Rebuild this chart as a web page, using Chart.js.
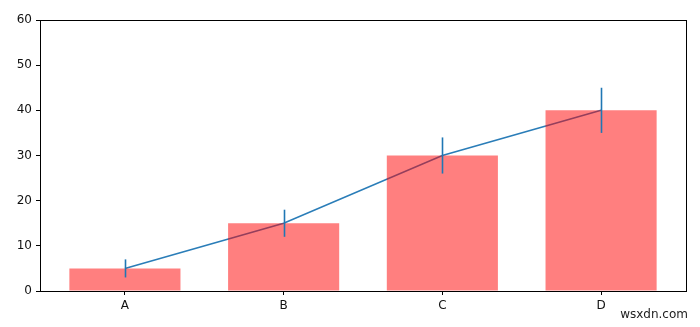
<!DOCTYPE html>
<html>
<head>
<meta charset="utf-8">
<script src="https://cdn.jsdelivr.net/npm/chart.js@4/dist/chart.umd.min.js"></script>
<style>
  body { margin: 0; background: #fff; }
  #wrap { position: relative; width: 700px; height: 327px; }
  #credit { position: absolute; right: 12px; bottom: 6px; font: 12px "DejaVu Sans", sans-serif; color: #222; }
</style>
</head>
<body>
<div id="wrap">
  <canvas id="myChart" width="700" height="327"></canvas>
  <div id="credit">wsxdn.com</div>
</div>
<script>
var categories = ['A', 'B', 'C', 'D'];
var values = [5, 15, 30, 40];
var errors = [2, 3, 4, 5];
var yTicks = [0, 10, 20, 30, 40, 50, 60];

var points = values.map(function(v, i) { return { x: i, y: v }; });

// error bars + top/right spines
var extras = {
    id: 'extras',
    afterDatasetsDraw: function(chart) {
        var c = chart.ctx, xs = chart.scales.x, ys = chart.scales.y;
        c.save();
        c.strokeStyle = '#1f77b4';
        c.lineWidth = 1.6;
        values.forEach(function(v, i) {
            var px = Math.round(xs.getPixelForValue(i)) + 0.5;
            c.beginPath();
            c.moveTo(px, ys.getPixelForValue(v - errors[i]));
            c.lineTo(px, ys.getPixelForValue(v + errors[i]));
            c.stroke();
        });
        var a = chart.chartArea;
        c.strokeStyle = '#000';
        c.lineWidth = 1;
        c.strokeRect(a.left + 0.5, a.top + 0.5, a.right - a.left, a.bottom - a.top);
        c.restore();
    }
};

var ctx = document.getElementById('myChart');
var myChart = new Chart(ctx, {
    type: 'bar',
    data: {
        datasets: [{
            type: 'bar',
            data: points,
            backgroundColor: 'rgba(255, 0, 0, 0.5)',
            borderWidth: 0,
            barPercentage: 0.7,
            categoryPercentage: 1,
            order: 0
        }, {
            type: 'line',
            data: points,
            borderColor: '#2a7db8',
            borderWidth: 1.6,
            pointRadius: 0,
            fill: false,
            order: 1
        }]
    },
    options: {
        responsive: false,
        animation: false,
        layout: { padding: { left: 0, right: 14, top: 20, bottom: 0 } },
        plugins: { legend: { display: false }, tooltip: { enabled: false } },
        scales: {
            x: {
                type: 'linear',
                min: -0.535,
                max: 3.535,
                offset: false,
                afterBuildTicks: function(s) {
                    s.ticks = categories.map(function(c, i) { return { value: i }; });
                },
                afterFit: function(s) { s.height = 36; },
                ticks: {
                    padding: 4,
                    color: '#111',
                    font: { family: 'DejaVu Sans', size: 12 },
                    callback: function(v) { return categories[v]; }
                },
                grid: { drawOnChartArea: false, drawTicks: true, tickLength: 4, color: '#000', offset: false },
                border: { display: true, color: '#000' }
            },
            y: {
                min: 0,
                max: 60,
                afterBuildTicks: function(s) {
                    s.ticks = yTicks.map(function(v) { return { value: v }; });
                },
                afterFit: function(s) { s.width = 40; },
                ticks: {
                    padding: 4,
                    color: '#111',
                    font: { family: 'DejaVu Sans', size: 12 }
                },
                grid: { drawOnChartArea: false, drawTicks: true, tickLength: 4, color: '#000' },
                border: { display: true, color: '#000' }
            }
        }
    },
    plugins: [extras]
});
</script>
</body>
</html>
